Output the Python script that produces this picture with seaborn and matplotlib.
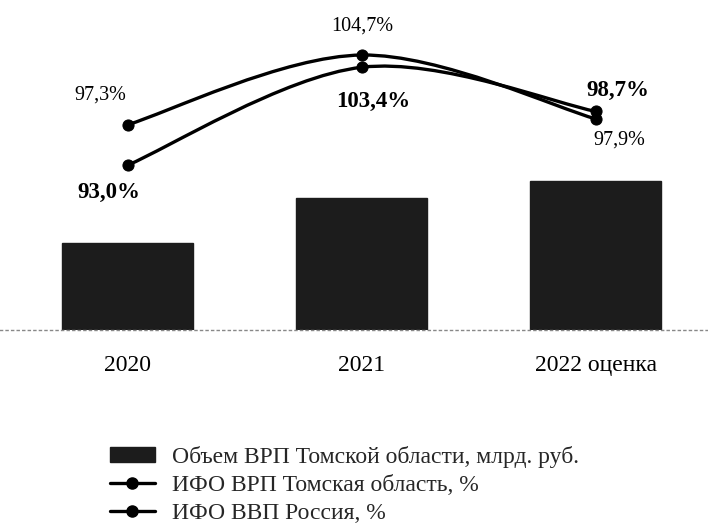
import numpy as np
import pandas as pd
import matplotlib
matplotlib.use("Agg")
import matplotlib.pyplot as plt
import seaborn as sns
from matplotlib.path import Path
from matplotlib.patches import PathPatch, Patch
from matplotlib.lines import Line2D

# ---- data ----
years = ["2020", "2021", "2022 оценка"]
grp_volume = [610, 925, 1045]          # Объем ВРП Томской области, млрд. руб. (estimated, no axis)
ifo_tomsk = [93.0, 103.4, 98.7]        # ИФО ВРП Томская область, %
ifo_russia = [97.3, 104.7, 97.9]       # ИФО ВВП Россия, %
labels_tomsk = ["93,0%", "103,4%", "98,7%"]
labels_russia = ["97,3%", "104,7%", "97,9%"]
legend_labels = ["Объем ВРП Томской области, млрд. руб.",
                 "ИФО ВРП Томская область, %",
                 "ИФО ВВП Россия, %"]

sns.set_theme(style="white")
plt.rcParams['font.family'] = ['Liberation Serif', 'DejaVu Serif']

W, H = 708, 526
fig = plt.figure(figsize=(W / 100, H / 100), dpi=100)
ax = fig.add_axes([0, (H - 330) / H, 1, 330 / H])

df = pd.DataFrame({"year": years, "grp": grp_volume})
sns.barplot(data=df, x="year", y="grp", ax=ax, color="#1c1c1c", width=0.56,
            saturation=1, edgecolor="#1c1c1c")
ax.set_ylim(0, 610 * 330 / 87)
ax.set_xlim(-0.547, 2.479)
ax.set_xlabel("")
ax.set_ylabel("")
ax.set_yticks([])
for s in ["top", "right", "left"]:
    ax.spines[s].set_visible(False)
ax.spines["bottom"].set_linestyle((0, (1.5, 2.5)))
ax.spines["bottom"].set_color("#888888")
ax.spines["bottom"].set_linewidth(1.0)
ax.tick_params(axis="x", length=0, pad=18, labelsize=17)
for t in ax.get_xticklabels():
    t.set_color("black")

ax2 = ax.twinx()
ax2.set_ylim(93 - 165 / 9.4, 93 + 165 / 9.4)
ax2.set_yticks([])
for s in ax2.spines.values():
    s.set_visible(False)

xs = np.arange(len(years))


def smooth_path(x, y):
    pts = np.column_stack([x, y]).astype(float)
    ext = np.vstack([pts[0], pts, pts[-1]])
    verts = [tuple(pts[0])]
    codes = [Path.MOVETO]
    for i in range(len(pts) - 1):
        p0, p1, p2, p3 = ext[i], ext[i + 1], ext[i + 2], ext[i + 3]
        c1 = p1 + (p2 - p0) / 6
        c2 = p2 - (p3 - p1) / 6
        verts += [tuple(c1), tuple(c2), tuple(p2)]
        codes += [Path.CURVE4] * 3
    return Path(verts, codes)


for vals in (ifo_russia, ifo_tomsk):
    ax2.add_patch(PathPatch(smooth_path(xs, vals), facecolor="none",
                            edgecolor="black", lw=2.4, zorder=3))
    sns.lineplot(x=xs, y=vals, ax=ax2, marker="o", markersize=8, color="black",
                 linestyle="", markeredgecolor="black", zorder=4)

ax2.set_xlim(-0.547, 2.479)

offs_russia = [(-20, 21), (0, 21), (17, -15)]
offs_tomsk = [(-14, -20), (8, -25), (16, 15)]
for i in range(3):
    ax2.annotate(labels_russia[i], (xs[i], ifo_russia[i]), xytext=offs_russia[i],
                 textcoords="offset points", ha="center", va="center",
                 fontsize=14.5, color="black")
    ax2.annotate(labels_tomsk[i], (xs[i], ifo_tomsk[i]), xytext=offs_tomsk[i],
                 textcoords="offset points", ha="center", va="center",
                 fontsize=16.5, fontweight="bold", color="black")

handles = [Patch(facecolor="#1c1c1c", edgecolor="#1c1c1c"),
           Line2D([], [], color="black", lw=2.4, marker="o", markersize=8),
           Line2D([], [], color="black", lw=2.4, marker="o", markersize=8)]
fig.legend(handles, legend_labels, loc="upper left",
           bbox_to_anchor=(98 / W, 1 - 434 / H), frameon=False,
           borderpad=0, handlelength=1.9, handletextpad=0.75, labelspacing=0.3,
           handleheight=0.6,
           prop={"family": ["Liberation Serif"], "size": 17})

fig.savefig("out.png", dpi=100)
